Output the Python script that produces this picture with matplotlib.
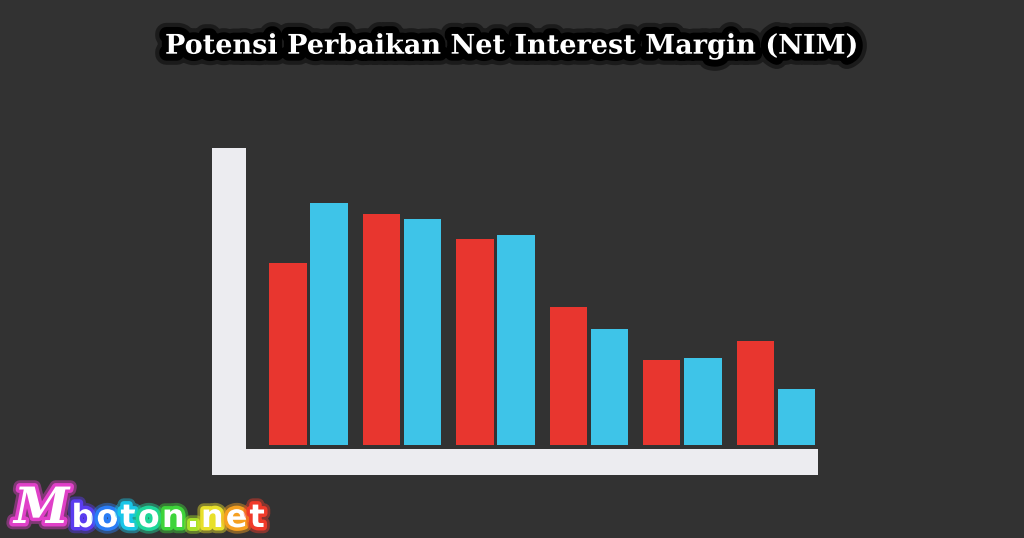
import numpy as np
import matplotlib
matplotlib.use("Agg")
import matplotlib.pyplot as plt
import matplotlib.patheffects as pe

# bar heights (same unit for both series)
groups = np.arange(6)
red_vals = [182, 231, 206, 138, 85, 104]
blue_vals = [242, 226, 210, 116, 87, 56]

title = "Potensi Perbaikan Net Interest Margin (NIM)"
brand_letters = ["M", "b", "o", "t", "o", "n", ".", "n", "e", "t"]
brand_glow = ["#e040c8", "#5a3cf0", "#2a7cf5", "#18c6e8", "#1fd69a",
              "#3ed43a", "#a6e02a", "#e8e02a", "#f5a020", "#f03a2a"]

bg = "#323232"
paper = "#ececf0"
red = "#e8362f"
blue = "#3ec4e8"

fig = plt.figure(figsize=(10.24, 5.38), dpi=100, facecolor=bg)

# axes placed so the white paper "axis" lines sit on its left/bottom edges
ax = fig.add_axes([229 / 1024, (538 - 462) / 538, (818 - 229) / 1024, (462 - 148) / 538])
ax.set_facecolor("none")

ax.bar(groups - 0.22, red_vals, 0.40, color=red, zorder=2)
ax.bar(groups + 0.22, blue_vals, 0.40, color=blue, zorder=2)

ax.set_xlim(-0.851, 5.452)
ax.set_ylim(-17, 297)
ax.set_xticks([])
ax.set_yticks([])

for s in ["top", "right"]:
    ax.spines[s].set_visible(False)
ax.spines["left"].set_color(paper)
ax.spines["left"].set_linewidth(34 * 0.72)
ax.spines["left"].set_capstyle("butt")
ax.spines["left"].set_bounds(-30, 297)
ax.spines["bottom"].set_color(paper)
ax.spines["bottom"].set_linewidth(26 * 0.72)
ax.spines["bottom"].set_capstyle("butt")
ax.spines["bottom"].set_bounds(-1.033, 5.452)

# title with heavy black glow
fig.text(0.5, 1 - 46 / 538, title, ha="center", va="center",
         fontsize=19.5, family="DejaVu Serif", weight="bold", color="white",
         path_effects=[pe.withStroke(linewidth=16, foreground="black", alpha=0.45),
                       pe.withStroke(linewidth=10, foreground="black")])

# rainbow watermark, letter by letter
last = None
for ch, c in zip(brand_letters, brand_glow):
    fx = [pe.withStroke(linewidth=9, foreground=c, alpha=0.45),
          pe.withStroke(linewidth=5, foreground=c)]
    if last is None:
        last = fig.text(14 / 1024, 1 - 523 / 538, ch, ha="left", va="baseline",
                        fontsize=36, family="DejaVu Serif", weight="bold",
                        style="italic", color="white", path_effects=fx)
    else:
        last = ax.annotate(ch, xy=(1, 0), xycoords=last, xytext=(1.5, 0),
                           textcoords="offset points", ha="left", va="bottom",
                           fontsize=23, family="DejaVu Sans", weight="bold",
                           color="white", path_effects=fx,
                           annotation_clip=False)

fig.savefig("out.png", dpi=100, facecolor=bg)
